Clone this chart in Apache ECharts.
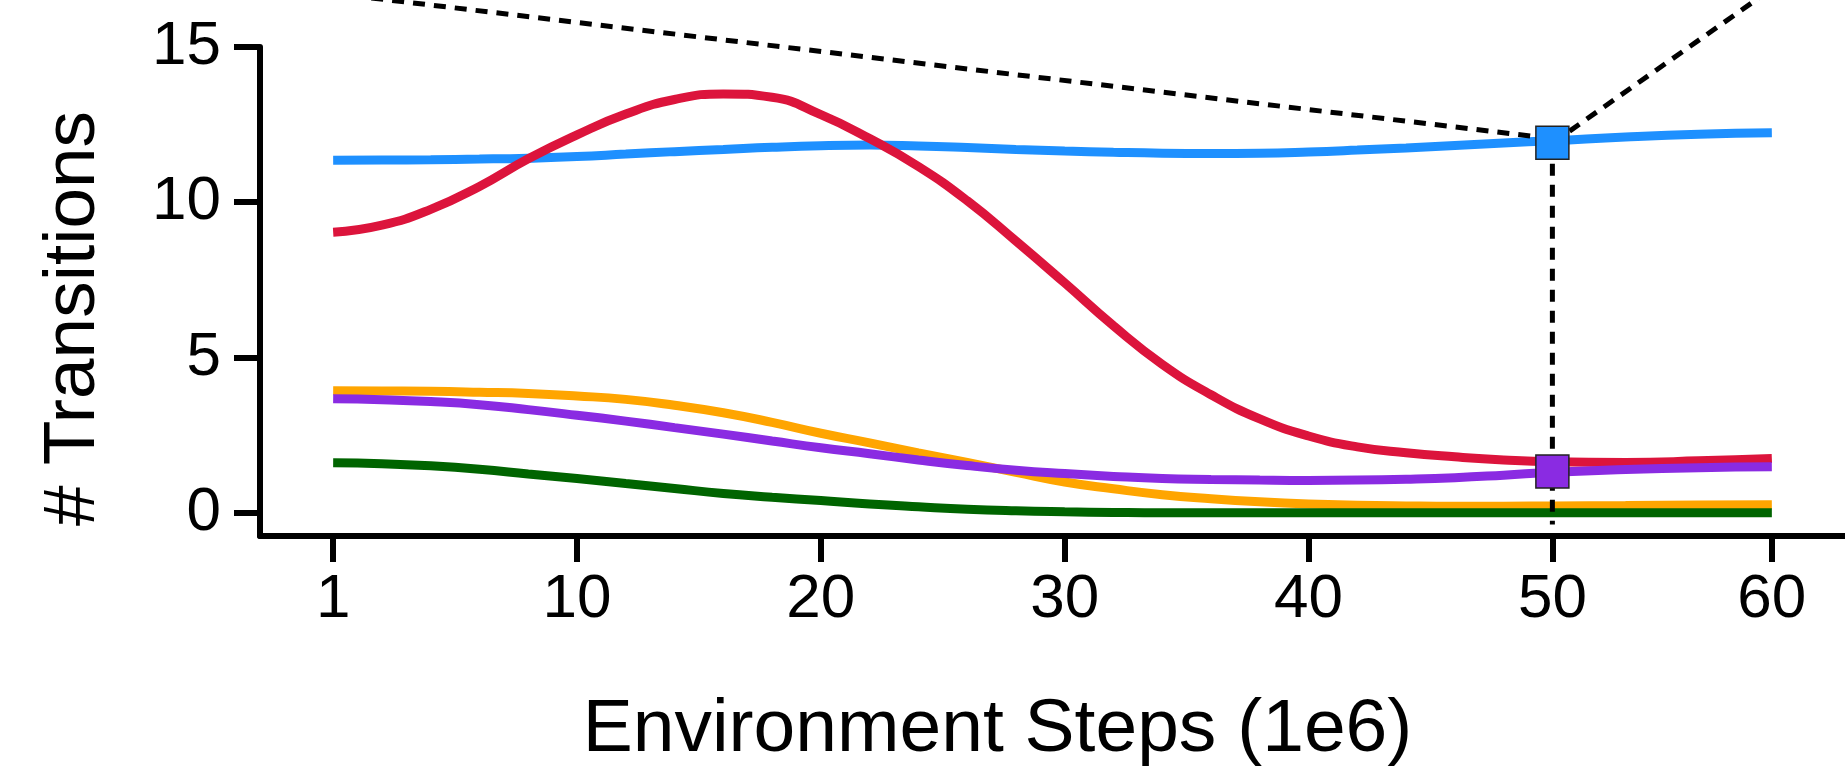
<!DOCTYPE html>
<html>
<head>
<meta charset="utf-8">
<script src="https://cdn.jsdelivr.net/npm/echarts@6/dist/echarts.min.js"></script>
<style>
  html, body { margin: 0; padding: 0; background: #ffffff; }
  #chart { width: 1845px; height: 773px; }
</style>
</head>
<body>
<div id="chart"></div>
<script>
// ---------- data (x = step index, 0 -> "1", 59 -> "60") ----------
const xSteps = [0, 2, 4, 6, 8, 10, 12, 14, 16, 18, 20, 22, 24, 26, 28, 30, 32, 34, 36, 38, 40, 42, 44, 46, 48, 50, 53, 56, 59];
const blueVals   = [11.35, 11.36, 11.37, 11.39, 11.42, 11.47, 11.55, 11.63, 11.70, 11.77, 11.82, 11.84, 11.81, 11.76, 11.70, 11.65, 11.61, 11.58, 11.57, 11.58, 11.62, 11.68, 11.75, 11.83, 11.91, 11.98, 12.10, 12.19, 12.24];
const redVals    = [9.03, 9.26, 9.77, 10.51, 11.40, 12.17, 12.84, 13.31, 13.49, 13.38, 12.82, 12.05, 11.15, 10.05, 8.75, 7.40, 6.02, 4.78, 3.80, 3.02, 2.47, 2.12, 1.93, 1.80, 1.70, 1.64, 1.62, 1.67, 1.75];
const orangeVals = [3.93, 3.92, 3.91, 3.88, 3.84, 3.76, 3.65, 3.46, 3.22, 2.91, 2.56, 2.25, 1.93, 1.62, 1.30, 0.99, 0.77, 0.58, 0.45, 0.35, 0.28, 0.24, 0.22, 0.21, 0.21, 0.22, 0.23, 0.25, 0.26];
const purpleVals = [3.67, 3.64, 3.58, 3.48, 3.32, 3.14, 2.95, 2.74, 2.53, 2.31, 2.09, 1.90, 1.70, 1.52, 1.37, 1.26, 1.17, 1.10, 1.07, 1.05, 1.04, 1.05, 1.08, 1.13, 1.21, 1.30, 1.39, 1.45, 1.48];
const greenVals  = [1.61, 1.58, 1.51, 1.40, 1.25, 1.10, 0.94, 0.78, 0.62, 0.50, 0.39, 0.28, 0.19, 0.11, 0.06, 0.03, 0.01, 0.0, 0.0, 0.0, 0.0, 0.0, 0.0, 0.0, 0.0, 0.0, 0.0, 0.0, 0.0];

const xTickPos    = [0, 10, 20, 30, 40, 50, 59];
const xTickLabels = ['1', '10', '20', '30', '40', '50', '60'];
const yTicks      = [0, 5, 10, 15];

// highlighted points at step "50"
const markX = 50;
const markBlueY = 11.92;
const markPurpleY = 1.33;
// dashed guide lines (data space)
const guideLeftX  = [-1, 50];
const guideLeftY  = [16.82, 12.05];
const guideRightX = [50, 60];
const guideRightY = [11.9, 17.43];
const guideVertX  = [50, 50];
const guideVertY  = [11.92, -0.38];

const FONT = "'Liberation Sans', Arial, Helvetica, sans-serif";
const pairs = (xs, ys) => xs.map((x, i) => [x, ys[i]]);

function lineSeries(name, vals, color) {
  return {
    name, type: 'line', data: pairs(xSteps, vals),
    smooth: 0.5, showSymbol: false, symbol: 'none',
    lineStyle: { color, width: 9 }, itemStyle: { color },
    z: 2, animation: false
  };
}
function guide(xs, ys) {
  return {
    type: 'line', data: pairs(xs, ys), showSymbol: false, symbol: 'none',
    clip: false, lineStyle: { color: '#000', width: 5, type: [12, 9] },
    z: 3, animation: false, silent: true
  };
}
function marker(x, y, color) {
  return {
    type: 'scatter', data: [[x, y]], symbol: 'rect', symbolSize: 33,
    itemStyle: { color, opacity: 1, borderColor: '#222', borderWidth: 1.5 },
    z: 5, animation: false, silent: true
  };
}

const chart = echarts.init(document.getElementById('chart'), null, { renderer: 'canvas' });
chart.setOption({
  backgroundColor: '#ffffff',
  animation: false,
  grid: { left: 260, top: 47, right: -6, bottom: 232, containLabel: false },
  xAxis: {
    type: 'value', min: -3, max: 62,
    axisLine: { onZero: false, lineStyle: { color: '#000', width: 6 } },
    axisTick: { customValues: xTickPos, length: 26, lineStyle: { color: '#000', width: 6 } },
    axisLabel: {
      customValues: xTickPos,
      formatter: v => { const i = xTickPos.indexOf(v); return i >= 0 ? xTickLabels[i] : ''; },
      fontSize: 62, color: '#000', fontFamily: FONT, margin: 33
    },
    splitLine: { show: false },
    name: 'Environment Steps (1e6)', nameLocation: 'middle', nameGap: 157,
    nameTextStyle: { fontSize: 75, color: '#000', fontFamily: FONT, padding: [0, 110, 0, 0] }
  },
  yAxis: {
    type: 'value', min: -0.75, max: 15,
    axisLine: { onZero: false, lineStyle: { color: '#000', width: 6 } },
    axisTick: { customValues: yTicks, length: 26, lineStyle: { color: '#000', width: 6 } },
    axisLabel: { customValues: yTicks, fontSize: 62, color: '#000', fontFamily: FONT, margin: 39 },
    splitLine: { show: false },
    name: '# Transitions', nameLocation: 'middle', nameGap: 150, nameRotate: 90,
    nameTextStyle: { fontSize: 73, color: '#000', fontFamily: FONT, padding: [0, 54, 0, 0] }
  },
  series: [
    lineSeries('blue', blueVals, '#1E90FF'),
    lineSeries('red', redVals, '#DC143C'),
    lineSeries('orange', orangeVals, '#FFA500'),
    lineSeries('purple', purpleVals, '#8A2BE2'),
    lineSeries('green', greenVals, '#006400'),
    guide(guideLeftX, guideLeftY),
    guide(guideRightX, guideRightY),
    guide(guideVertX, guideVertY),
    marker(markX, markBlueY, '#1E90FF'),
    marker(markX, markPurpleY, '#8A2BE2')
  ]
});
</script>
</body>
</html>
